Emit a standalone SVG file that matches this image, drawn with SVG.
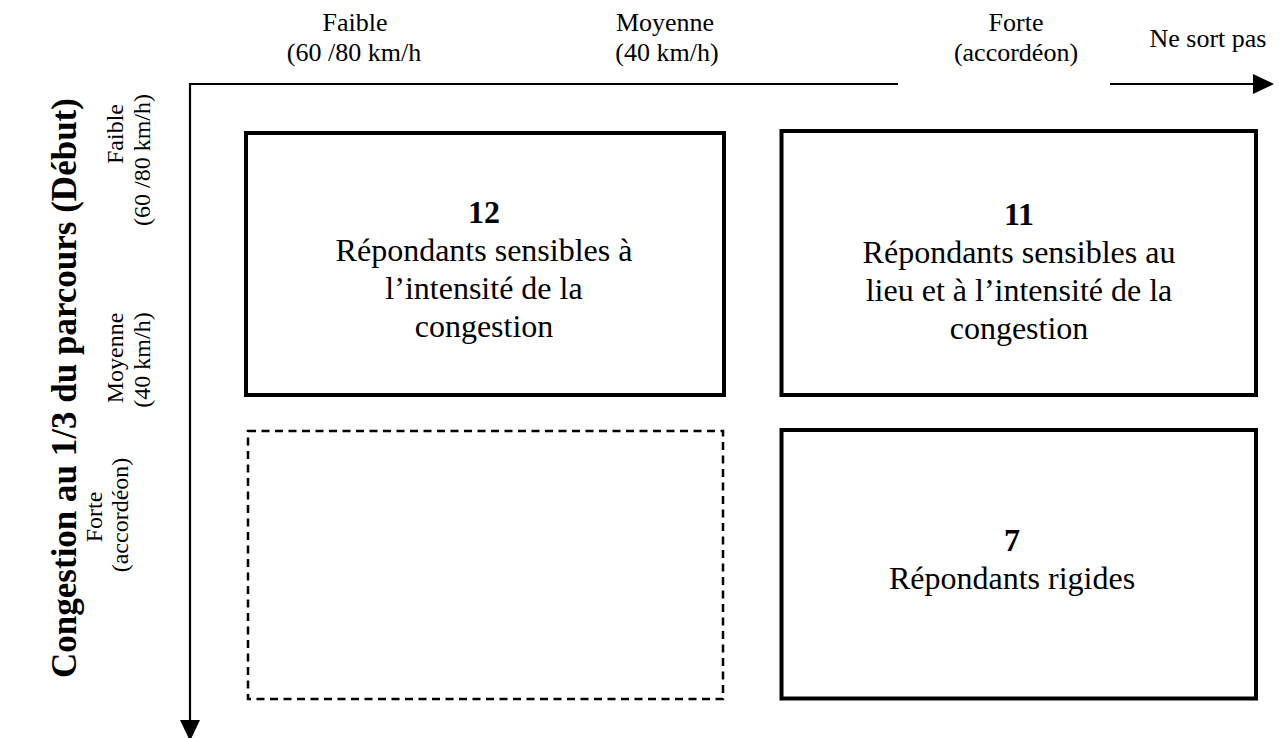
<svg xmlns="http://www.w3.org/2000/svg" width="1281" height="738" viewBox="0 0 1281 738">
  <style>
    .lbl { font-family: "Liberation Serif", "Times New Roman", serif; fill: #000; }
    .axis-top { font-size: 26px; text-anchor: middle; }
    .axis-left { font-size: 24px; text-anchor: middle; }
    .title { font-size: 35px; font-weight: bold; text-anchor: middle; }
    .box { fill: none; stroke: #000; stroke-width: 4; }
    .box-empty { fill: none; stroke: #000; stroke-width: 2.5; stroke-dasharray: 8 5.5; }
    .box-text { font-size: 32px; text-anchor: middle; }
    .num { font-weight: bold; }
    .axis { fill: none; stroke: #000; stroke-width: 2.2; }
  </style>
  <defs>
    <marker id="arrow" markerUnits="userSpaceOnUse" markerWidth="21" markerHeight="20" refX="18" refY="10" orient="auto">
      <path d="M0,0 L21,10 L0,20 Z" fill="#000"/>
    </marker>
  </defs>
  <rect width="1281" height="738" fill="#fff"/>

  <!-- axes -->
  <g id="connectors">
    <path class="axis" d="M898,84 H190 V738" marker-end="url(#arrow)"/>
    <path class="axis" d="M1110,84 H1271" marker-end="url(#arrow)"/>
  </g>

  <!-- horizontal axis labels -->
  <g id="top-labels" class="lbl axis-top">
    <text x="355" y="31">Faible</text>
    <text x="354" y="61">(60 /80 km/h</text>
    <text x="665" y="31">Moyenne</text>
    <text x="667" y="61">(40 km/h)</text>
    <text x="1016" y="31">Forte</text>
    <text x="1016" y="61">(accordéon)</text>
    <text x="1208" y="47">Ne sort pas</text>
  </g>

  <!-- vertical axis labels -->
  <g id="left-labels" class="lbl axis-left">
    <text transform="translate(123,134) rotate(-90)">Faible</text>
    <text transform="translate(150,160) rotate(-90)">(60 /80 km/h)</text>
    <text transform="translate(123,358) rotate(-90)">Moyenne</text>
    <text transform="translate(150,360) rotate(-90)">(40 km/h)</text>
    <text transform="translate(102,517) rotate(-90)">Forte</text>
    <text transform="translate(128,515) rotate(-90)">(accordéon)</text>
  </g>
  <g id="axis-title">
    <text class="lbl title" transform="translate(76,388) rotate(-90)">Congestion au 1/3 du parcours (Début)</text>
  </g>

  <!-- cells -->
  <g id="cell-12">
    <rect class="box" x="246" y="133" width="478" height="262"/>
    <text class="lbl box-text" x="484" y="223"><tspan class="num">12</tspan></text>
    <text class="lbl box-text" x="484" y="261">Répondants sensibles à</text>
    <text class="lbl box-text" x="484" y="299">l’intensité de la</text>
    <text class="lbl box-text" x="484" y="337">congestion</text>
  </g>
  <g id="cell-11">
    <rect class="box" x="781.5" y="131" width="474.5" height="264"/>
    <text class="lbl box-text" x="1019" y="225"><tspan class="num">11</tspan></text>
    <text class="lbl box-text" x="1019" y="263">Répondants sensibles au</text>
    <text class="lbl box-text" x="1019" y="301">lieu et à l’intensité de la</text>
    <text class="lbl box-text" x="1019" y="339">congestion</text>
  </g>
  <g id="cell-empty">
    <rect class="box-empty" x="248" y="431" width="475" height="268"/>
  </g>
  <g id="cell-7">
    <rect class="box" x="781.5" y="430" width="474.5" height="268.5"/>
    <text class="lbl box-text" x="1012" y="551"><tspan class="num">7</tspan></text>
    <text class="lbl box-text" x="1012" y="589">Répondants rigides</text>
  </g>
</svg>
